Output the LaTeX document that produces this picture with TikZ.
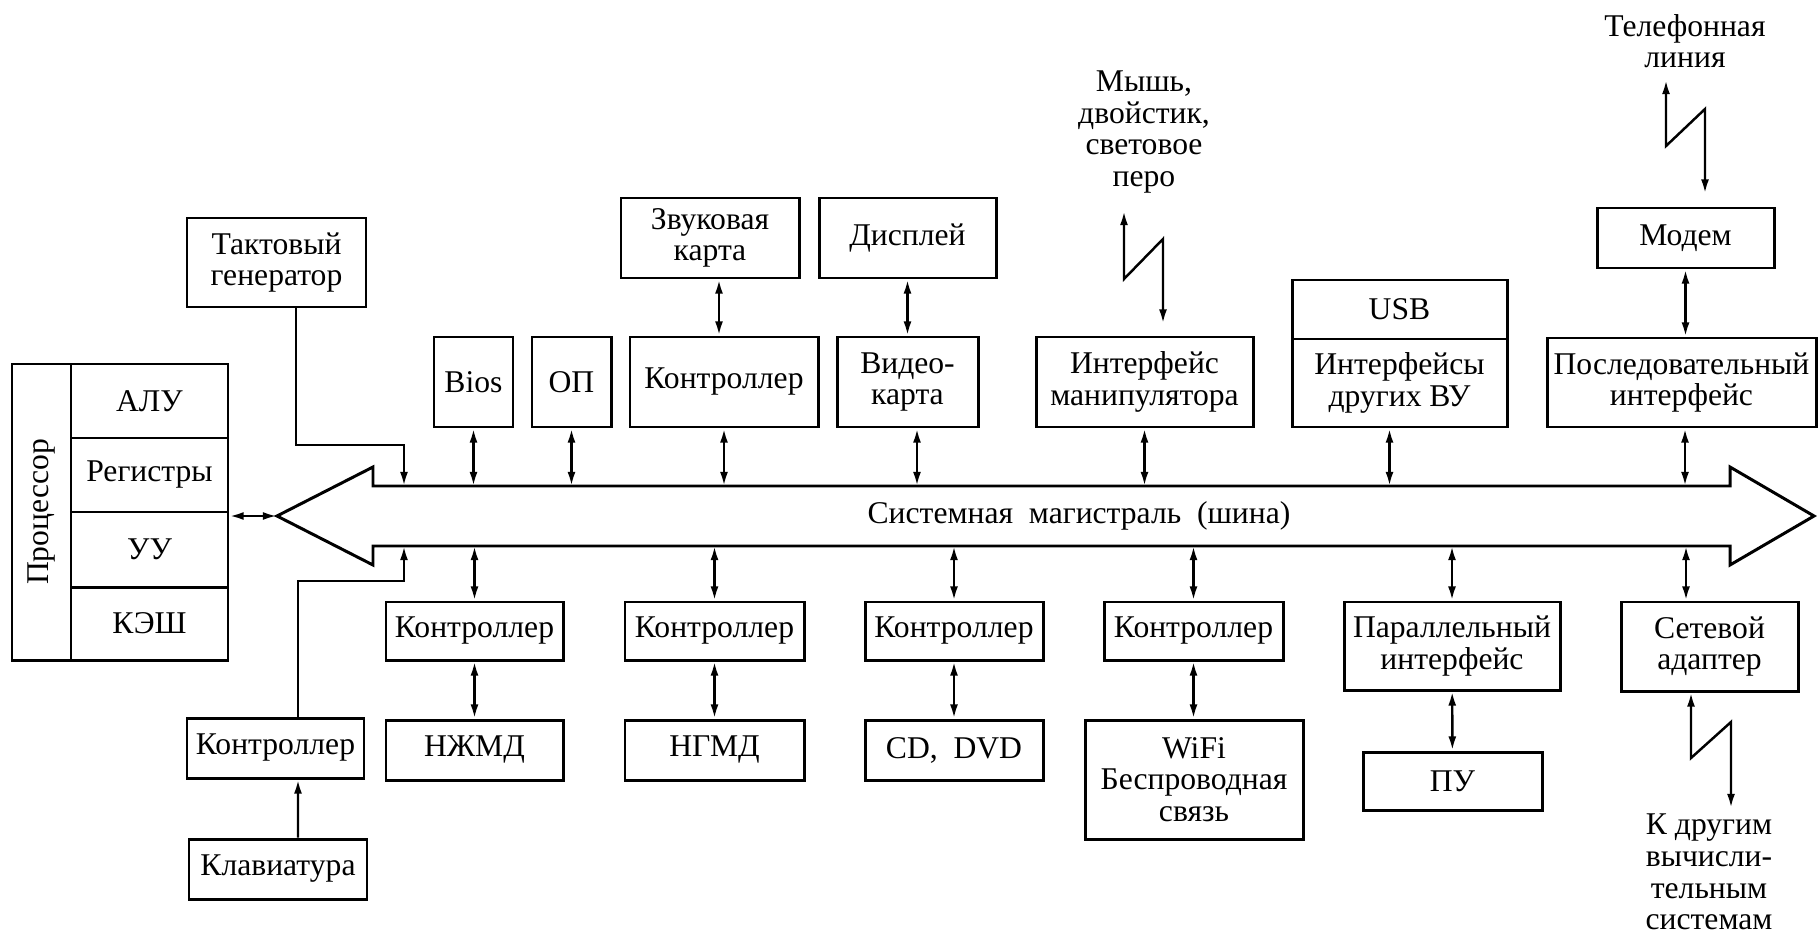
\documentclass[tikz,border=0pt]{standalone}
\usepackage{fontspec}
\setmainfont{Liberation Serif}
\usetikzlibrary{arrows.meta}

\begin{document}
\begin{tikzpicture}[x=0.2mm, y=-0.2mm, line width=1.4pt, >={Latex[length=8pt,width=4.5pt]},
  main/.style = {draw, line width=1.7pt, inner sep=0pt, align=center, font=\fontsize{18}{18}\selectfont},
  txt/.style = {inner sep=0pt, align=center, font=\fontsize{18}{18}\selectfont}]
\useasboundingbox (0,0) rectangle (1819,935);

\node[main, minimum width=11.8mm, minimum height=59.2mm] (cpu) at (41.5,512) {\rotatebox{90}{Процессор}};
\node[main, minimum width=31.4mm, minimum height=14.8mm] (alu) at (149.5,401) {АЛУ};
\node[main, minimum width=31.4mm, minimum height=14.8mm] (reg) at (149.5,475) {Регистры};
\node[main, minimum width=31.4mm, minimum height=15mm] (uu) at (149.5,549.5) {УУ};
\node[main, minimum width=31.4mm, minimum height=14.6mm] (kesh) at (149.5,623.5) {КЭШ};

\node[main, minimum width=35.8mm, minimum height=17.8mm] (gen) at (276.5,262.5) {Тактовый\\генератор};
\node[main, minimum width=35.6mm, minimum height=16mm] (zvuk) at (710,238) {Звуковая\\карта};
\node[main, minimum width=35.4mm, minimum height=16mm] (disp) at (907.5,238) {Дисплей};
\node[main, minimum width=15.8mm, minimum height=18mm] (bios) at (473.5,382) {Bios};
\node[main, minimum width=15.8mm, minimum height=18mm] (op) at (571.5,382) {ОП};
\node[main, minimum width=37.6mm, minimum height=18mm] (ctrl) at (724,382) {Контроллер};
\node[main, minimum width=28.2mm, minimum height=18mm] (video) at (907.5,382) {Видео-\\карта};
\node[main, minimum width=43.4mm, minimum height=18mm] (manip) at (1144.5,382) {Интерфейс\\манипулятора};
\node[main, minimum width=43mm, minimum height=11.8mm] (usb) at (1399.5,309.5) {USB};
\node[main, minimum width=43mm, minimum height=17.6mm] (other) at (1399.5,383) {Интерфейсы\\других ВУ};
\node[main, minimum width=35.4mm, minimum height=12mm] (modem) at (1685.5,238) {Модем};
\node[main, minimum width=53.8mm, minimum height=17.8mm] (serial) at (1681.5,382.5) {Последовательный\\интерфейс};

\node[main, minimum width=35.4mm, minimum height=11.6mm] (c1) at (474.5,631) {Контроллер};
\node[main, minimum width=35.8mm, minimum height=11.6mm] (c2) at (714.5,631) {Контроллер};
\node[main, minimum width=35.6mm, minimum height=11.6mm] (c3) at (954,631) {Контроллер};
\node[main, minimum width=35.8mm, minimum height=11.6mm] (c4) at (1193.5,631) {Контроллер};
\node[main, minimum width=43.2mm, minimum height=17.6mm] (par) at (1452,646) {Параллельный\\интерфейс};
\node[main, minimum width=35.4mm, minimum height=17.8mm] (net) at (1709.5,646.5) {Сетевой\\адаптер};
\node[main, minimum width=35.4mm, minimum height=12mm] (hdd) at (474.5,750) {НЖМД};
\node[main, minimum width=35.8mm, minimum height=12mm] (fdd) at (714.5,750) {НГМД};
\node[main, minimum width=35.6mm, minimum height=12mm] (cd) at (954,750) {CD,\ \ DVD};
\node[main, minimum width=43.6mm, minimum height=23.8mm] (wifi) at (1194,779.5) {WiFi\\Беспроводная\\связь};
\node[main, minimum width=35.8mm, minimum height=11.6mm] (pu) at (1452.5,781) {ПУ};
\node[main, minimum width=35.4mm, minimum height=12mm] (kctrl) at (275.5,748) {Контроллер};
\node[main, minimum width=35.6mm, minimum height=12mm] (klav) at (278,869) {Клавиатура};

\node[txt] (mouse) at (1144,132) {Мышь,\\двойстик,\\световое\\перо};
\node[txt] (phone) at (1685,41) {Телефонная\\линия};
\node[txt] (sys) at (1709,872) {К другим\\вычисли-\\тельным\\системам};

\draw[line width=1.7pt] (277,516) -- (373,467) -- (373,486) -- (1730,486) -- (1730,467) -- (1814,516)
  -- (1730,565) -- (1730,546) -- (373,546) -- (373,565) -- cycle;
\node[txt] (bus) at (1079,516) {Системная\ \ магистраль\ \ (шина)};

\coordinate (btop) at (0,486);
\coordinate (bbot) at (0,546);
\coordinate (btip) at (277,516);
\coordinate (clk) at (404,486);
\coordinate (kbd) at (404,546);
\coordinate (m0) at (1124,211);
\coordinate (t0) at (1666,80);
\coordinate (n0) at (1731,808);

\draw[<->] (btip -| uu.east) -- (btip);
\draw[->] ([xshift=3.9mm]gen.south) |- (404,445) -- (clk);
\draw[->] ([xshift=4.5mm]kctrl.north) |- (404,581) -- (kbd);
\draw[->] ([xshift=4mm]klav.north) -- ([xshift=4.5mm]kctrl.south);

\draw[<->] (bios) -- (bios |- btop);
\draw[<->] (op) -- (op |- btop);
\draw[<->] (ctrl) -- (ctrl |- btop);
\draw[<->] ([xshift=1.9mm]video.south) -- ([xshift=1.9mm]video.south |- btop);
\draw[<->] (manip) -- (manip |- btop);
\draw[<->] ([xshift=-2mm]other.south) -- ([xshift=-2mm]other.south |- btop);
\draw[<->] ([xshift=0.7mm]serial.south) -- ([xshift=0.7mm]serial.south |- btop);
\draw[<->] ([xshift=-1mm]ctrl.north) -- ([xshift=-1mm]ctrl.north |- zvuk.south);
\draw[<->] (video) -- (disp);
\draw[<->] (modem.south) -- (modem.south |- serial.north);

\draw[<->] (c1) -- (c1 |- bbot);
\draw[<->] (c2) -- (c2 |- bbot);
\draw[<->] (c3) -- (c3 |- bbot);
\draw[<->] (c4) -- (c4 |- bbot);
\draw[<->] (par) -- (par |- bbot);
\draw[<->] ([xshift=-4.7mm]net.north) -- ([xshift=-4.7mm]net.north |- bbot);
\draw[<->] (c1) -- (hdd);
\draw[<->] (c2) -- (fdd);
\draw[<->] (c3) -- (cd);
\draw[<->] (c4.south) -- (c4.south |- wifi.north);
\draw[<->] (par) -- (pu);

\draw[<->] (m0) -- (1124,279) -- (1163,239) -- ([xshift=3.7mm,yshift=2.4mm]manip.north);
\draw[<->] (t0) -- (1666,146) -- (1705,109) -- ([xshift=3.9mm,yshift=2.6mm]modem.north);
\draw[<->] ([xshift=-3.7mm]net.south) -- (1691,758) -- (1731,722) -- (n0);

\end{tikzpicture}
\end{document}
